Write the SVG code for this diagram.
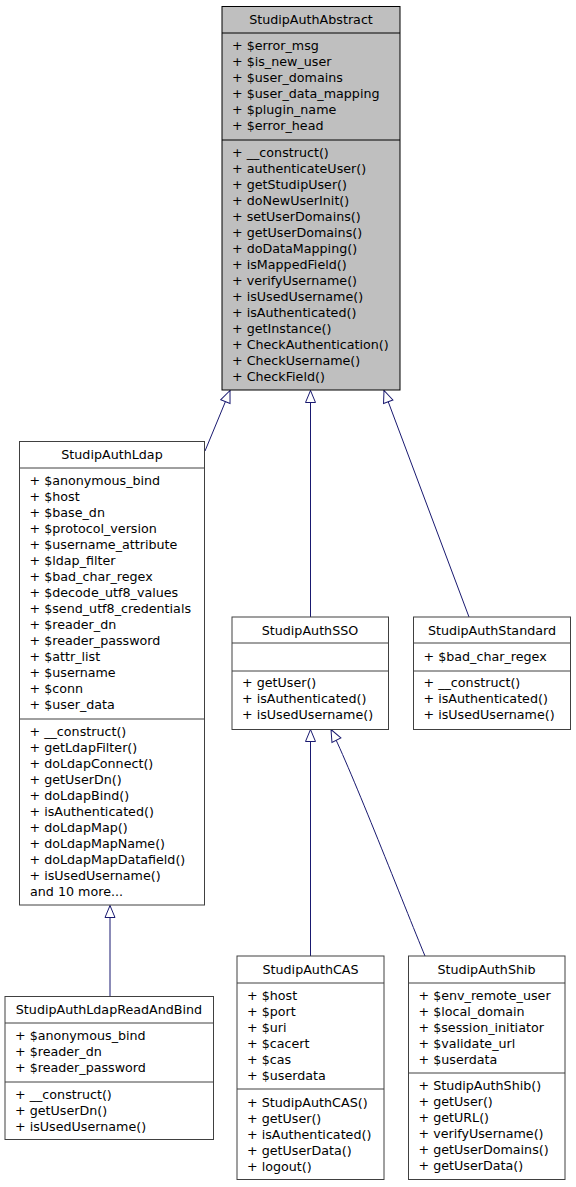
<svg xmlns="http://www.w3.org/2000/svg" width="576" height="1187" viewBox="0 0 576 1187">
<style>
text{font-family:"DejaVu Sans",Verdana,sans-serif;font-size:12.7px;fill:#000}
.t{text-anchor:middle}
.box{fill:#fff;stroke:#404040;stroke-width:1}
.main{fill:#bfbfbf;stroke:#000;stroke-width:1}
.sep{stroke:#404040;stroke-width:1}
.msep{stroke:#000;stroke-width:1}
.e{fill:none;stroke:#191970;stroke-width:1}
</style>
<defs>
<marker id="inh" viewBox="-13 -6 14 12" refX="0" refY="0" markerWidth="14" markerHeight="12" markerUnits="userSpaceOnUse" orient="auto">
<path d="M0,0 L-12,-5 L-12,5 Z" fill="#fff" stroke="#191970" stroke-width="1"/>
</marker>
</defs>
<rect width="576" height="1187" fill="#fff"/>
<g id="connectors">
<path class="e" d="M205,451 L230,390.5" marker-end="url(#inh)"/>
<path class="e" d="M310.5,617 L310.5,390.5" marker-end="url(#inh)"/>
<path class="e" d="M469,617 L384,390.5" marker-end="url(#inh)"/>
<path class="e" d="M110,996 L110,905.5" marker-end="url(#inh)"/>
<path class="e" d="M310.5,956 L310.5,729.5" marker-end="url(#inh)"/>
<path class="e" d="M425,956 C405,908 351,769 331,729.5" marker-end="url(#inh)"/>
</g>
<g id="StudipAuthAbstract">
<rect class="main" x="222" y="6.5" width="178" height="383.5"/>
<line class="msep" x1="222" y1="33" x2="400" y2="33"/>
<line class="msep" x1="222" y1="140" x2="400" y2="140"/>
<text class="t" x="311" y="24">StudipAuthAbstract</text>
<text x="232" y="50">+ $error_msg</text>
<text x="232" y="66">+ $is_new_user</text>
<text x="232" y="82">+ $user_domains</text>
<text x="232" y="98">+ $user_data_mapping</text>
<text x="232" y="114">+ $plugin_name</text>
<text x="232" y="130">+ $error_head</text>
<text x="232" y="157">+ __construct()</text>
<text x="232" y="173">+ authenticateUser()</text>
<text x="232" y="189">+ getStudipUser()</text>
<text x="232" y="205">+ doNewUserInit()</text>
<text x="232" y="221">+ setUserDomains()</text>
<text x="232" y="237">+ getUserDomains()</text>
<text x="232" y="253">+ doDataMapping()</text>
<text x="232" y="269">+ isMappedField()</text>
<text x="232" y="285">+ verifyUsername()</text>
<text x="232" y="301">+ isUsedUsername()</text>
<text x="232" y="317">+ isAuthenticated()</text>
<text x="232" y="333">+ getInstance()</text>
<text x="232" y="349">+ CheckAuthentication()</text>
<text x="232" y="365">+ CheckUsername()</text>
<text x="232" y="381">+ CheckField()</text>
</g>
<g id="StudipAuthLdap">
<rect class="box" x="19.5" y="441.5" width="185" height="463.5"/>
<line class="sep" x1="19.5" y1="468" x2="204.5" y2="468"/>
<line class="sep" x1="19.5" y1="719" x2="204.5" y2="719"/>
<text class="t" x="112" y="459">StudipAuthLdap</text>
<text x="29.5" y="485">+ $anonymous_bind</text>
<text x="29.5" y="501">+ $host</text>
<text x="29.5" y="517">+ $base_dn</text>
<text x="29.5" y="533">+ $protocol_version</text>
<text x="29.5" y="549">+ $username_attribute</text>
<text x="29.5" y="565">+ $ldap_filter</text>
<text x="29.5" y="581">+ $bad_char_regex</text>
<text x="29.5" y="597">+ $decode_utf8_values</text>
<text x="29.5" y="613">+ $send_utf8_credentials</text>
<text x="29.5" y="629">+ $reader_dn</text>
<text x="29.5" y="645">+ $reader_password</text>
<text x="29.5" y="661">+ $attr_list</text>
<text x="29.5" y="677">+ $username</text>
<text x="29.5" y="693">+ $conn</text>
<text x="29.5" y="709">+ $user_data</text>
<text x="29.5" y="736">+ __construct()</text>
<text x="29.5" y="752">+ getLdapFilter()</text>
<text x="29.5" y="768">+ doLdapConnect()</text>
<text x="29.5" y="784">+ getUserDn()</text>
<text x="29.5" y="800">+ doLdapBind()</text>
<text x="29.5" y="816">+ isAuthenticated()</text>
<text x="29.5" y="832">+ doLdapMap()</text>
<text x="29.5" y="848">+ doLdapMapName()</text>
<text x="29.5" y="864">+ doLdapMapDatafield()</text>
<text x="29.5" y="880">+ isUsedUsername()</text>
<text x="30" y="896">and 10 more...</text>
</g>
<g id="StudipAuthSSO">
<rect class="box" x="232" y="617" width="156.5" height="112.5"/>
<line class="sep" x1="232" y1="643" x2="388.5" y2="643"/>
<line class="sep" x1="232" y1="671" x2="388.5" y2="671"/>
<text class="t" x="310" y="635">StudipAuthSSO</text>
<text x="242" y="687">+ getUser()</text>
<text x="242" y="703">+ isAuthenticated()</text>
<text x="242" y="719">+ isUsedUsername()</text>
</g>
<g id="StudipAuthStandard">
<rect class="box" x="413.5" y="617" width="157" height="112.5"/>
<line class="sep" x1="413.5" y1="643" x2="570.5" y2="643"/>
<line class="sep" x1="413.5" y1="671" x2="570.5" y2="671"/>
<text class="t" x="492" y="635">StudipAuthStandard</text>
<text x="423.5" y="661">+ $bad_char_regex</text>
<text x="423.5" y="687">+ __construct()</text>
<text x="423.5" y="703">+ isAuthenticated()</text>
<text x="423.5" y="719">+ isUsedUsername()</text>
</g>
<g id="StudipAuthLdapReadAndBind">
<rect class="box" x="5" y="996.5" width="208.5" height="143"/>
<line class="sep" x1="5" y1="1023" x2="213.5" y2="1023"/>
<line class="sep" x1="5" y1="1082" x2="213.5" y2="1082"/>
<text class="t" x="109" y="1014">StudipAuthLdapReadAndBind</text>
<text x="15" y="1040">+ $anonymous_bind</text>
<text x="15" y="1056">+ $reader_dn</text>
<text x="15" y="1072">+ $reader_password</text>
<text x="15" y="1099">+ __construct()</text>
<text x="15" y="1115">+ getUserDn()</text>
<text x="15" y="1131">+ isUsedUsername()</text>
</g>
<g id="StudipAuthCAS">
<rect class="box" x="237" y="956" width="147" height="223.5"/>
<line class="sep" x1="237" y1="983" x2="384" y2="983"/>
<line class="sep" x1="237" y1="1089" x2="384" y2="1089"/>
<text class="t" x="310.5" y="974">StudipAuthCAS</text>
<text x="247" y="1000">+ $host</text>
<text x="247" y="1016">+ $port</text>
<text x="247" y="1032">+ $uri</text>
<text x="247" y="1048">+ $cacert</text>
<text x="247" y="1064">+ $cas</text>
<text x="247" y="1080">+ $userdata</text>
<text x="247" y="1107">+ StudipAuthCAS()</text>
<text x="247" y="1123">+ getUser()</text>
<text x="247" y="1139">+ isAuthenticated()</text>
<text x="247" y="1155">+ getUserData()</text>
<text x="247" y="1171">+ logout()</text>
</g>
<g id="StudipAuthShib">
<rect class="box" x="408.5" y="956" width="156.5" height="223.5"/>
<line class="sep" x1="408.5" y1="983" x2="565" y2="983"/>
<line class="sep" x1="408.5" y1="1073" x2="565" y2="1073"/>
<text class="t" x="486.5" y="974">StudipAuthShib</text>
<text x="418.5" y="1000">+ $env_remote_user</text>
<text x="418.5" y="1016">+ $local_domain</text>
<text x="418.5" y="1032">+ $session_initiator</text>
<text x="418.5" y="1048">+ $validate_url</text>
<text x="418.5" y="1064">+ $userdata</text>
<text x="418.5" y="1090">+ StudipAuthShib()</text>
<text x="418.5" y="1106">+ getUser()</text>
<text x="418.5" y="1122">+ getURL()</text>
<text x="418.5" y="1138">+ verifyUsername()</text>
<text x="418.5" y="1154">+ getUserDomains()</text>
<text x="418.5" y="1170">+ getUserData()</text>
</g>
</svg>
